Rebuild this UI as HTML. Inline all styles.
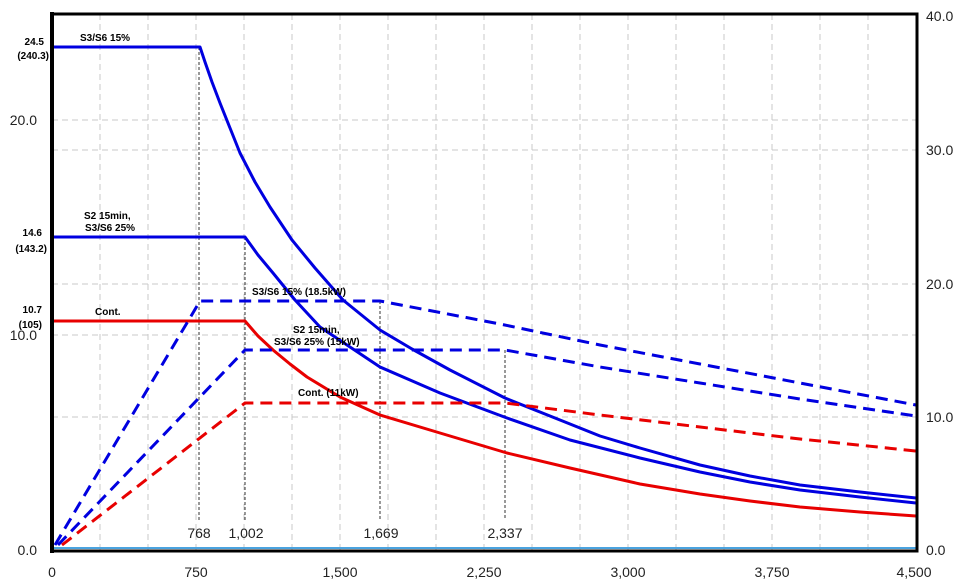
<!DOCTYPE html>
<html><head><meta charset="utf-8"><style>
html,body{margin:0;padding:0;background:#fff;}
svg{display:block;font-family:"Liberation Sans",Arial,sans-serif;}
</style></head><body>
<svg width="958" height="584" viewBox="0 0 958 584" xmlns="http://www.w3.org/2000/svg">
<g stroke="#c8c8c8" stroke-width="1" stroke-dasharray="6,4" fill="none">
<path d="M100,14V550M148,14V550M196,14V550M244,14V550M292,14V550M340,14V550M388,14V550M436,14V550M484,14V550M532,14V550M580,14V550M628,14V550M676,14V550M724,14V550M772,14V550M820,14V550M868,14V550"/>
<path d="M52,120H916M52,335H916M52,150H916M52,284H916M52,417H916"/>
</g>
<g stroke="#333" stroke-width="1" stroke-dasharray="3,2" fill="none">
<path d="M199,47V520M245,237V520M380,301V520M505,350V520"/>
</g>
<line x1="54" y1="548" x2="916" y2="548" stroke="#4aa3df" stroke-width="2"/>
<g fill="none" stroke-width="3" stroke-linejoin="round">
<path stroke="#0000e0" d="M52,47H200L205,62L212,82L220,103L230,128L240,153L255,182L270,207L292,240L315,268L343,300L380,330L412,349L450,370L505,398L560,420L600,436L640,448L700,465L750,476L800,485L860,492L916,498"/>
<path stroke="#0000e0" d="M52,237H245L258,255L273,273L295,300L320,327L350,347L380,367L440,393L507,418L570,440L640,458L700,472L750,482L800,490L860,497L916,503"/>
<path stroke="#e80000" d="M52,321H245L258,336L273,350L290,364L307,377L340,397L380,415L440,433L507,453L570,468L640,484L700,494L750,501L800,507L860,512L916,516"/>
</g>
<g fill="none" stroke-width="3" stroke-dasharray="12,7">
<path stroke="#0000e0" d="M55,545L200,301H380L500,324L600,345L700,364L800,383L916,405"/>
<path stroke="#0000e0" d="M58,545L245,350H505L600,367L700,383L800,399L916,416"/>
<path stroke="#e80000" d="M62,545L245,403H505L600,415L700,427L800,439L916,451"/>
</g>
<rect x="52" y="14" width="865" height="537" fill="none" stroke="#000" stroke-width="3"/>
<line x1="52" y1="12" x2="52" y2="553" stroke="#000" stroke-width="4"/>
<g font-size="10" font-weight="bold" fill="#000">
<text x="80" y="41">S3/S6 15%</text>
<text x="84" y="219">S2 15min,</text>
<text x="85" y="231">S3/S6 25%</text>
<text x="95" y="315">Cont.</text>
<text x="252" y="295">S3/S6 15% (18.5kW)</text>
<text x="293" y="333">S2 15min,</text>
<text x="274" y="345">S3/S6 25% (15kW)</text>
<text x="298" y="396">Cont. (11kW)</text>
<g text-anchor="end">
<text x="44" y="45">24.5</text><text x="49" y="59">(240.3)</text>
<text x="42" y="236">14.6</text><text x="47" y="252">(143.2)</text>
<text x="42" y="313">10.7</text><text x="42" y="328">(105)</text>
</g>
</g>
<g font-size="14" fill="#222">
<g text-anchor="end">
<text x="37" y="555">0.0</text><text x="37" y="340">10.0</text><text x="37" y="125">20.0</text>
</g>
<g text-anchor="start">
<text x="926" y="555">0.0</text><text x="926" y="422">10.0</text><text x="926" y="289">20.0</text><text x="926" y="155">30.0</text><text x="926" y="21">40.0</text>
</g>
<g text-anchor="middle">
<text x="52" y="577">0</text><text x="196" y="577">750</text><text x="340" y="577">1,500</text><text x="484" y="577">2,250</text><text x="628" y="577">3,000</text><text x="772" y="577">3,750</text><text x="914" y="577">4,500</text>
<text x="199" y="538">768</text><text x="246" y="538">1,002</text><text x="381" y="538">1,669</text><text x="505" y="538">2,337</text>
</g>
</g>
</svg>
</body></html>
